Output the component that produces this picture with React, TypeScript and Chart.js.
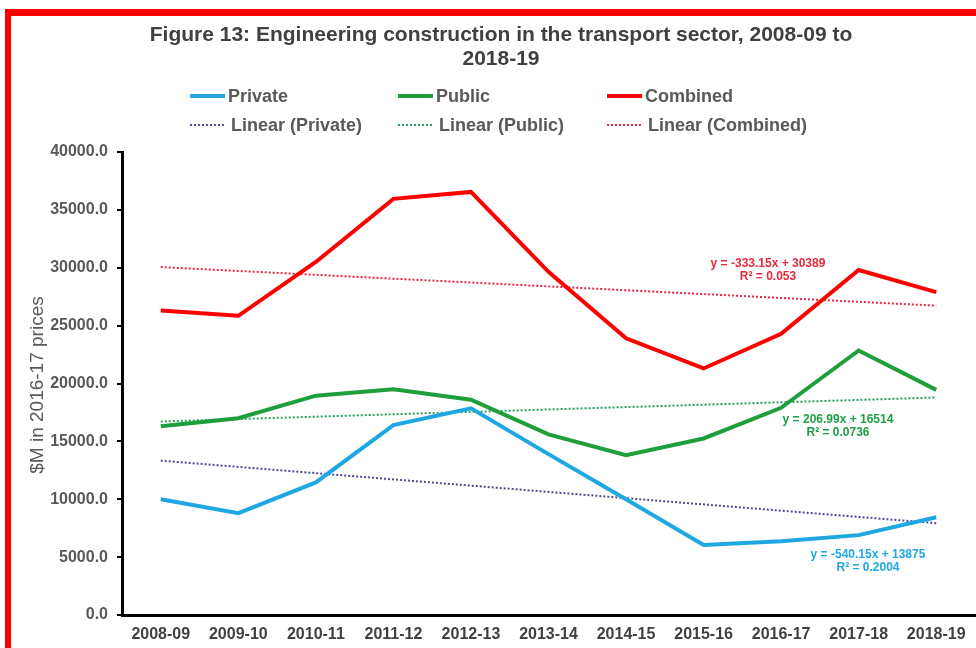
import React, { useEffect, useRef } from "react";
import { Chart, registerables } from "chart.js";

Chart.register(...registerables);

const categories = [
  "2008-09", "2009-10", "2010-11", "2011-12", "2012-13", "2013-14",
  "2014-15", "2015-16", "2016-17", "2017-18", "2018-19",
];
const privateValues = [10000, 8800, 11450, 16400, 17850, 13900, 10000, 6050, 6380, 6900, 8450];
const publicValues = [16300, 17000, 18950, 19500, 18600, 15600, 13800, 15250, 17900, 22850, 19450];
const combinedValues = [26300, 25850, 30500, 35950, 36550, 29650, 23900, 21300, 24300, 29800, 27900];
const privateTrendEnds = [13335, 7933];
const publicTrendEnds = [16721, 18791];
const combinedTrendEnds = [30056, 26724];
const yTickValues = [0, 5000, 10000, 15000, 20000, 25000, 30000, 35000, 40000];

const titleLines = ["Figure 13: Engineering construction in the transport sector, 2008-09 to", "2018-19"];
const yAxisTitle = "$M in 2016-17 prices";
const equations = [
  { lines: ["y = -333.15x + 30389", "R² = 0.053"], color: "#e8283c", x: 768, y: 264 },
  { lines: ["y = 206.99x + 16514", "R² = 0.0736"], color: "#1f9e46", x: 838, y: 420 },
  { lines: ["y = -540.15x + 13875", "R² = 0.2004"], color: "#1ea7e1", x: 868, y: 555 },
];

const C_PRIVATE = "#1ea7e1";
const C_PUBLIC = "#1f9e3c";
const C_COMBINED = "#ff0000";
const C_T_PRIVATE = "#4b4b95";
const C_T_PUBLIC = "#2a9e60";
const C_T_COMBINED = "#e0294a";

const FONT = "'Liberation Sans', Arial, sans-serif";

function trendSeries(ends: number[]) {
  const arr: (number | null)[] = categories.map(() => null);
  arr[0] = ends[0];
  arr[arr.length - 1] = ends[1];
  return arr;
}

const decorPlugin = {
  id: "decor",
  beforeDraw(chart: any) {
    const ctx = chart.ctx;
    ctx.save();
    ctx.fillStyle = "#ffffff";
    ctx.fillRect(0, 0, chart.width, chart.height);
    ctx.restore();
  },
  afterDraw(chart: any) {
    const ctx = chart.ctx;
    ctx.save();
    // red frame
    ctx.fillStyle = "#ff0000";
    ctx.fillRect(5, 9, chart.width - 5, 7);
    ctx.fillRect(5, 9, 6, chart.height - 9);

    // title
    ctx.fillStyle = "#404040";
    ctx.font = `bold 21px ${FONT}`;
    ctx.textAlign = "center";
    ctx.textBaseline = "middle";
    ctx.fillText(titleLines[0], 501, 35);
    ctx.fillText(titleLines[1], 501, 59);

    // legend
    const ds = chart.data.datasets;
    const cols = [190, 398, 607];
    const rows = [96, 125];
    ctx.font = `bold 18px ${FONT}`;
    ctx.textAlign = "left";
    for (let i = 0; i < 6; i++) {
      const d = ds[i];
      const col = cols[i % 3];
      const row = rows[Math.floor(i / 3)];
      ctx.beginPath();
      ctx.strokeStyle = d.borderColor;
      if (i < 3) {
        ctx.lineWidth = 4;
        ctx.setLineDash([]);
      } else {
        ctx.lineWidth = 2;
        ctx.setLineDash([2, 2]);
      }
      ctx.moveTo(col, row);
      ctx.lineTo(col + 35, row);
      ctx.stroke();
      ctx.setLineDash([]);
      ctx.fillStyle = "#595959";
      ctx.fillText(d.label, col + (i < 3 ? 38 : 41), row + 1);
    }

    // y axis title
    ctx.save();
    ctx.translate(38, 385);
    ctx.rotate(-Math.PI / 2);
    ctx.textAlign = "center";
    ctx.fillStyle = "#595959";
    ctx.font = `19px ${FONT}`;
    ctx.fillText(yAxisTitle, 0, 0);
    ctx.restore();

    // trendline equations
    ctx.font = `bold 12px ${FONT}`;
    ctx.textAlign = "center";
    for (const e of equations) {
      ctx.fillStyle = e.color;
      ctx.fillText(e.lines[0], e.x, e.y);
      ctx.fillText(e.lines[1], e.x, e.y + 13);
    }
    ctx.restore();
  },
};

export default function App() {
  const ref = useRef<HTMLCanvasElement>(null);
  useEffect(() => {
    if (!ref.current) return;
    const chart = new Chart(ref.current, {
      type: "line",
      data: {
        labels: categories,
        datasets: [
          { label: "Private", data: privateValues, borderColor: C_PRIVATE, borderWidth: 4, pointRadius: 0, tension: 0 },
          { label: "Public", data: publicValues, borderColor: C_PUBLIC, borderWidth: 4, pointRadius: 0, tension: 0 },
          { label: "Combined", data: combinedValues, borderColor: C_COMBINED, borderWidth: 4, pointRadius: 0, tension: 0 },
          { label: "Linear (Private)", data: trendSeries(privateTrendEnds), borderColor: C_T_PRIVATE, borderWidth: 2, borderDash: [2, 2], pointRadius: 0, spanGaps: true },
          { label: "Linear (Public)", data: trendSeries(publicTrendEnds), borderColor: C_T_PUBLIC, borderWidth: 2, borderDash: [2, 2], pointRadius: 0, spanGaps: true },
          { label: "Linear (Combined)", data: trendSeries(combinedTrendEnds), borderColor: C_T_COMBINED, borderWidth: 2, borderDash: [2, 2], pointRadius: 0, spanGaps: true },
        ] as any,
      },
      options: {
        animation: false,
        responsive: false,
        devicePixelRatio: 1,
        layout: { padding: { top: 152, left: 0, right: 1, bottom: 0 } },
        plugins: { legend: { display: false }, title: { display: false }, tooltip: { enabled: false } },
        scales: {
          x: {
            offset: true,
            grid: { display: true, drawOnChartArea: false, drawTicks: false },
            border: { display: true, color: "#000000", width: 3 },
            ticks: {
              color: "#404040",
              font: { family: FONT, size: 16, weight: "bold" },
              padding: 10,
              maxRotation: 0,
              autoSkip: false,
            },
            afterFit(scale: any) {
              scale.height = 33;
            },
          },
          y: {
            min: 0,
            max: 40000,
            afterBuildTicks(scale: any) {
              scale.ticks = yTickValues.map((v) => ({ value: v }));
            },
            grid: { display: true, drawOnChartArea: false, drawTicks: true, tickLength: 5, tickColor: "#000000", lineWidth: 2 },
            border: { display: true, color: "#000000", width: 3 },
            ticks: {
              color: "#595959",
              font: { family: FONT, size: 16, weight: "bold" },
              padding: 9,
              callback: (v: any) => Number(v).toFixed(1),
            },
            afterFit(scale: any) {
              scale.width = 122;
            },
          },
        },
      } as any,
      plugins: [decorPlugin],
    });
    return () => chart.destroy();
  }, []);
  return (
    <div style={{ position: "absolute", left: 0, top: 0, width: 976, height: 648, overflow: "hidden", background: "#fff" }}>
      <canvas ref={ref} width={976} height={648} style={{ display: "block" }} />
    </div>
  );
}
